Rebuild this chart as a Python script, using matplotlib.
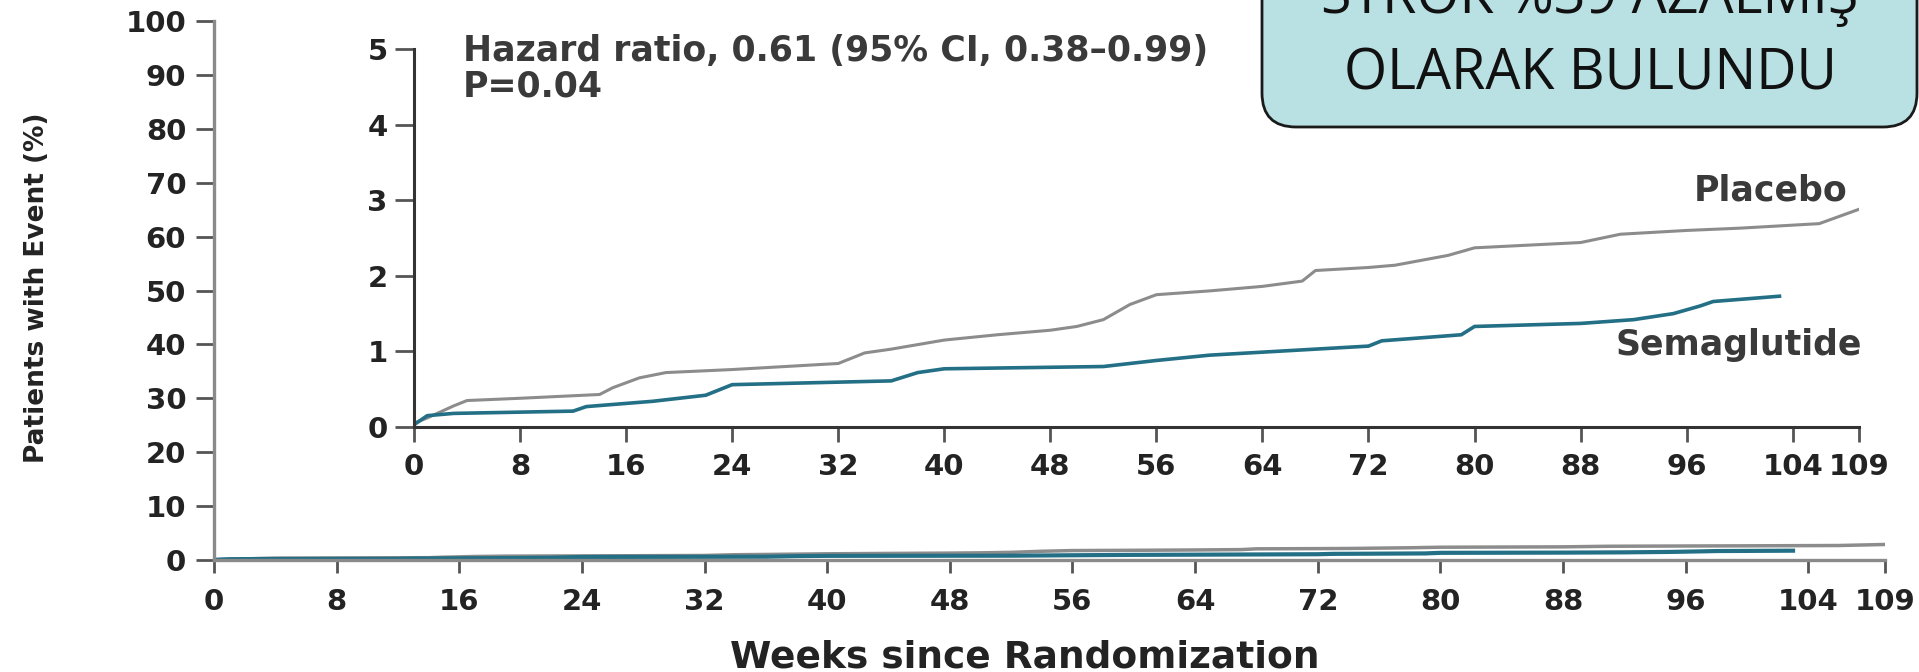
import matplotlib
matplotlib.use("Agg")
import matplotlib.pyplot as plt
from matplotlib.patches import FancyBboxPatch

W, H = 1919, 672

# cumulative incidence of stroke (%), weeks since randomization
placebo_wk = [0, 1, 3, 4, 8, 14, 15, 17, 19, 24, 32, 34, 36, 40, 44, 48, 50, 52, 54, 56,
              60, 64, 67, 68, 72, 74, 78, 80, 88, 91, 96, 100, 106, 109]
placebo_pct = [0.05, 0.12, 0.28, 0.35, 0.38, 0.43, 0.52, 0.65, 0.72, 0.76, 0.84, 0.98, 1.03,
               1.15, 1.22, 1.28, 1.33, 1.42, 1.62, 1.75, 1.80, 1.86, 1.93, 2.07, 2.11, 2.14,
               2.27, 2.37, 2.44, 2.55, 2.60, 2.63, 2.69, 2.88]
sema_wk = [0, 1, 3, 12, 13, 18, 22, 24, 36, 38, 40, 52, 56, 60, 64, 72, 73, 79, 80, 88,
           92, 95, 97, 98, 103]
sema_pct = [0.03, 0.15, 0.18, 0.21, 0.27, 0.34, 0.42, 0.56, 0.61, 0.72, 0.77, 0.80, 0.88,
            0.95, 0.99, 1.07, 1.14, 1.22, 1.33, 1.37, 1.42, 1.50, 1.60, 1.66, 1.73]

week_ticks = [0, 8, 16, 24, 32, 40, 48, 56, 64, 72, 80, 88, 96, 104, 109]
main_yticks = list(range(0, 101, 10))
inset_yticks = [0, 1, 2, 3, 4, 5]

GRAY = "#8c8c8c"
TEAL = "#236f86"
INK = "#232323"

plt.rcParams["font.family"] = ["DejaVu Sans"]
plt.rcParams["font.weight"] = "bold"

fig = plt.figure(figsize=(W / 100, H / 100), dpi=100)


def px_axes(x0, y0, x1, y1):
    # pixel box (left, top, right, bottom) -> figure fraction rect
    return [x0 / W, 1 - y1 / H, (x1 - x0) / W, (y1 - y0) / H]


# ---- main axes, 0-100 %
ax = fig.add_axes(px_axes(214, 21, 1885, 560))
ax.plot(placebo_wk, placebo_pct, color=GRAY, lw=2.5, solid_joinstyle="miter")
ax.plot(sema_wk, sema_pct, color=TEAL, lw=3.0)
ax.set_xlim(0, 109)
ax.set_ylim(0, 100)
for s in ["top", "right"]:
    ax.spines[s].set_visible(False)
for s in ["left", "bottom"]:
    ax.spines[s].set_color("#8a8a8a")
    ax.spines[s].set_linewidth(2.4)
ax.set_xticks(week_ticks)
ax.set_yticks(main_yticks)
ax.tick_params(axis="y", length=13, width=2, color="#555555", pad=7,
               labelsize=21, labelcolor=INK)
ax.tick_params(axis="x", length=9, width=2, color="#555555", pad=11,
               labelsize=21, labelcolor=INK)
ax.patch.set_alpha(0)

# ---- inset axes, 0-5 %
ax2 = fig.add_axes(px_axes(414, 49, 1859, 427))
ax2.plot(placebo_wk, placebo_pct, color=GRAY, lw=2.2)
ax2.plot(sema_wk, sema_pct, color=TEAL, lw=2.6)
ax2.set_xlim(0, 109)
ax2.set_ylim(0, 5)
for s in ["top", "right"]:
    ax2.spines[s].set_visible(False)
for s in ["left", "bottom"]:
    ax2.spines[s].set_color("#333333")
    ax2.spines[s].set_linewidth(2.2)
ax2.set_xticks(week_ticks)
ax2.set_yticks(inset_yticks)
ax2.tick_params(axis="y", length=14, width=2, color="#555555", pad=5,
                labelsize=21, labelcolor=INK)
ax2.tick_params(axis="x", length=11, width=2, color="#555555", pad=8,
                labelsize=21, labelcolor=INK)
ax2.patch.set_alpha(0)

ax2.text(0.034, 0.995, "Hazard ratio, 0.61 (95% CI, 0.38\u20130.99)", transform=ax2.transAxes,
         ha="left", va="center", fontsize=25, color="#3a3a3a")
ax2.text(0.034, 0.902, "P=0.04", transform=ax2.transAxes,
         ha="left", va="center", fontsize=25, color="#3a3a3a")
ax2.text(102.3, 3.13, "Placebo", ha="center", va="center", fontsize=25, color="#3a3a3a")
ax2.text(99.9, 1.08, "Semaglutide", ha="center", va="center", fontsize=25, color="#3a3a3a")

fig.text(1025 / W, 1 - 657 / H, "Weeks since Randomization", ha="center", va="center",
         fontsize=27, color=INK)
fig.text(37 / W, 1 - 288 / H, "Patients with Event (%)", rotation=90, ha="center",
         va="center", fontsize=19, color=INK,
         family=["Liberation Sans Narrow", "DejaVu Sans Condensed", "DejaVu Sans"])

# ---- callout box in the upper right
box = FancyBboxPatch((12.62, 5.45), 19.17 - 12.62, 2.5,
                     boxstyle="round,pad=0,rounding_size=0.34",
                     transform=fig.dpi_scale_trans, facecolor="#b9e0e3",
                     edgecolor="#1a1a1a", lw=2, zorder=5)
fig.patches.append(box)
fig.text(15.90, 6.59, "STROK %39 AZALMIŞ", transform=fig.dpi_scale_trans,
         ha="center", va="baseline", fontsize=40, fontweight="normal",
         family=["Open Sans", "DejaVu Sans"], color="#111111", zorder=6)
fig.text(15.90, 5.82, "OLARAK BULUNDU", transform=fig.dpi_scale_trans,
         ha="center", va="baseline", fontsize=40, fontweight="normal",
         family=["Open Sans", "DejaVu Sans"], color="#111111", zorder=6)

fig.savefig("out.png", dpi=100)
